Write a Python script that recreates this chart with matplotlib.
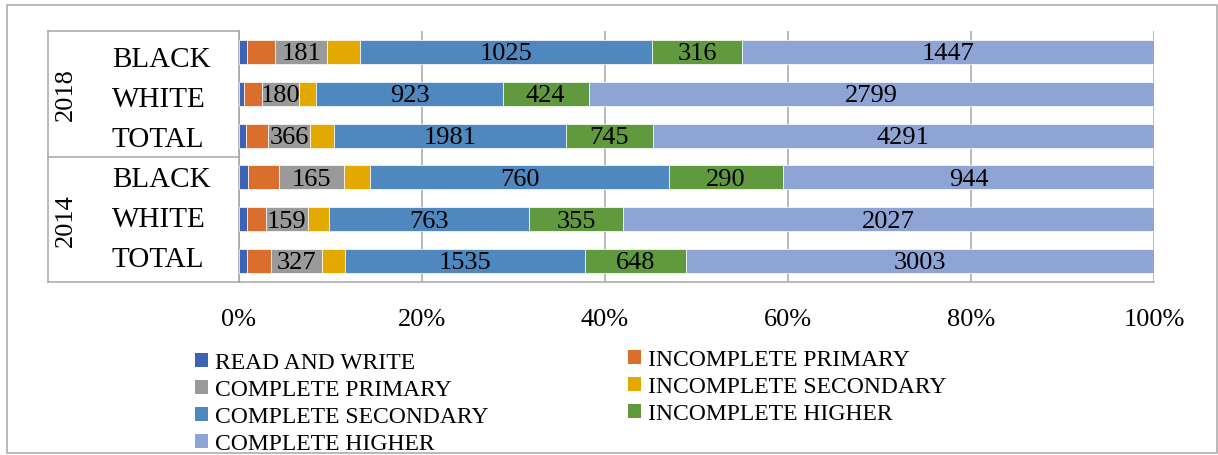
import numpy as np
import matplotlib
matplotlib.use("Agg")
import matplotlib.pyplot as plt
from matplotlib.patches import Patch, Rectangle
from matplotlib.lines import Line2D
import matplotlib.transforms as mtransforms

plt.rcParams['font.family'] = ['Liberation Serif', 'DejaVu Serif']

# Rows top to bottom: 2018 (BLACK, WHITE, TOTAL), 2014 (BLACK, WHITE, TOTAL)
groups = ['BLACK', 'WHITE', 'TOTAL', 'BLACK', 'WHITE', 'TOTAL']
years = ['2018', '2014']

read_write = [27, 27, 58, 22, 29, 50]
incomplete_primary = [101, 88, 188, 79, 74, 152]
complete_primary = [181, 180, 366, 165, 159, 327]
incomplete_secondary = [117, 88, 203, 68, 83, 152]
complete_secondary = [1025, 923, 1981, 760, 763, 1535]
incomplete_higher = [316, 424, 745, 290, 355, 648]
complete_higher = [1447, 2799, 4291, 944, 2027, 3003]

series_names = ['READ AND WRITE', 'INCOMPLETE PRIMARY', 'COMPLETE PRIMARY',
                'INCOMPLETE SECONDARY', 'COMPLETE SECONDARY', 'INCOMPLETE HIGHER',
                'COMPLETE HIGHER']
series_values = [read_write, incomplete_primary, complete_primary,
                 incomplete_secondary, complete_secondary, incomplete_higher,
                 complete_higher]
series_colors = ['#3B64B4', '#DA6E2C', '#9A9A9A', '#E3A900', '#4F88BE',
                 '#60993E', '#8EA4D5']
labelled = {'COMPLETE PRIMARY', 'COMPLETE SECONDARY', 'INCOMPLETE HIGHER',
            'COMPLETE HIGHER'}

W, H = 1218, 456
fig = plt.figure(figsize=(W / 100, H / 100), dpi=100)
ax = fig.add_axes([239 / W, 1 - 283 / H, 915 / W, 251 / H])

data = np.array(series_values, dtype=float)
totals = data.sum(axis=0)
shares = data / totals * 100
y = np.arange(len(groups))
left = np.zeros(len(groups))
for name, vals, pct, col in zip(series_names, series_values, shares, series_colors):
    ax.barh(y, pct, left=left, height=0.57, color=col, edgecolor='white',
            linewidth=0.5, zorder=3)
    if name in labelled:
        for yi, (l, p, v) in enumerate(zip(left, pct, vals)):
            ax.text(l + p / 2, yi + 0.03, f'{v}', ha='center', va='center',
                    fontsize=19, color='black', zorder=4)
    left += pct

grid_col = '#a6a6a6'
ax.set_xlim(0, 100)
ax.set_ylim(len(groups) - 0.5, -0.5)
ax.set_xticks(np.arange(0, 101, 20))
ax.set_xticklabels([f'{v}%' for v in range(0, 101, 20)], fontsize=19)
ax.tick_params(axis='x', length=0, pad=18.5)
ax.set_yticks([])
ax.grid(axis='x', color=grid_col, linewidth=1.1, zorder=0)
for s in ['top', 'right']:
    ax.spines[s].set_visible(False)
for s in ['left', 'bottom']:
    ax.spines[s].set_color(grid_col)
    ax.spines[s].set_linewidth(1.1)

# Two-level category axis drawn as a small table on the left
trans = mtransforms.blended_transform_factory(ax.transAxes, ax.transData)
x_tab = (48 - 239) / 915
for yy in [-0.5, 2.5, 5.5]:
    ax.add_line(Line2D([x_tab, 0], [yy, yy], transform=trans, color=grid_col,
                       linewidth=1.1, clip_on=False))
ax.add_line(Line2D([x_tab, x_tab], [-0.5, 5.5], transform=trans, color=grid_col,
                   linewidth=1.1, clip_on=False))
x_cat = (112 - 239) / 915
label_rows = np.linspace(0.16, 4.95, len(groups))
for yl, g in zip(label_rows, groups):
    ax.text(x_cat, yl, g, transform=trans, ha='left', va='center',
            fontsize=21)
x_year = (66 - 239) / 915
for k, yr in enumerate(years):
    ax.text(x_year, 3 * k + 1, yr, transform=trans, ha='center', va='center',
            rotation=90, fontsize=19)

# Legend in two columns
handles = [Patch(facecolor=c, edgecolor='none', label=n)
           for n, c in zip(series_names, series_colors)]
leg_kw = dict(frameon=False, fontsize=17, loc='upper left', borderpad=0,
              borderaxespad=0, handlelength=0.55, handleheight=0.55,
              handletextpad=0.3, labelspacing=0.26)
leg1 = fig.legend(handles=[handles[i] for i in (0, 2, 4, 6)],
                  bbox_to_anchor=(195 / W, 1 - 353 / H), **leg_kw)
leg2 = fig.legend(handles=[handles[i] for i in (1, 3, 5)],
                  bbox_to_anchor=(628 / W, 1 - 350 / H), **leg_kw)

# Outer chart border
fig.patches.append(Rectangle((7 / W, 2 / H), 1210 / W, 448 / H,
                             transform=fig.transFigure, fill=False,
                             edgecolor=grid_col, linewidth=1.1))

fig.savefig('out.png', dpi=100)
